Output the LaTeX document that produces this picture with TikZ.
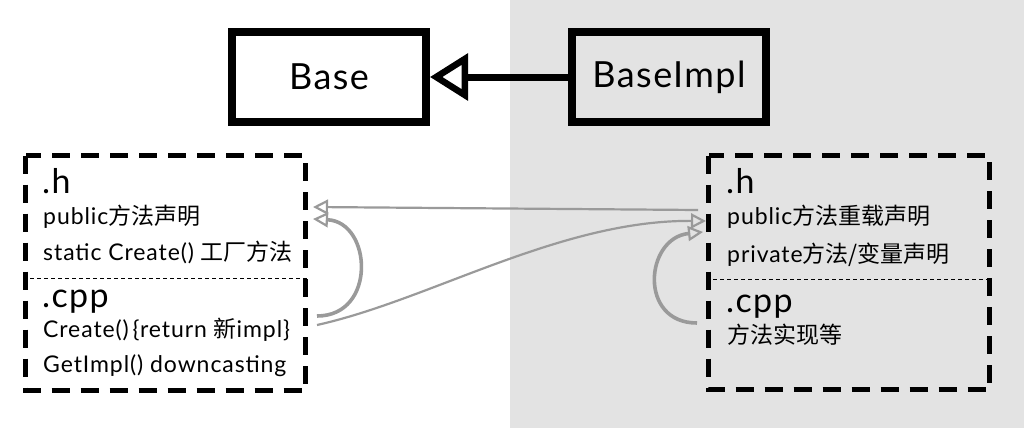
\documentclass[tikz,border=0pt]{standalone}
\usepackage{fontspec}
\setmainfont{Lato}[LetterSpace=4]
\newfontfamily\cjk{Noto Sans CJK SC}
\usetikzlibrary{arrows.meta}
\newcommand\zhs[1]{{\cjk #1}}
\definecolor{bggray}{HTML}{E3E3E3}
\definecolor{arrgray}{HTML}{9A9A9A}
\tikzset{
  classbox/.style={draw=black, line width=8pt, minimum width=194pt, minimum height=90pt, inner sep=0pt, font=\fontsize{36}{40}\selectfont},
  filebox/.style={draw=black, line width=5pt, dash pattern=on 18pt off 11pt, inner sep=0pt},
  divider/.style={draw=black, line width=0.9pt, dash pattern=on 4pt off 3pt},
  ftitle/.style={anchor=base west, inner sep=0pt, font=\fontsize{34}{38}\selectfont},
  fitem/.style={anchor=base west, inner sep=0pt, font=\fontsize{23}{26}\selectfont},
  thinarr/.style={draw=arrgray, line width=2.2pt, -{Triangle[open, length=15pt, width=15pt]}},
  thickarr/.style={draw=arrgray, line width=3.6pt, -{Triangle[open, length=15pt, width=15pt, line width=2.2pt]}},
}
\begin{document}
\begin{tikzpicture}[x=1pt, y=-1pt]
\useasboundingbox (0,0) rectangle (1024,428);
\fill[bggray] (510,0) rectangle (1024,428);

% class boxes
\node[classbox] (base) at (329,77) {Base};
\node[classbox, fill=bggray] (impl) at (669,77) {BaseImpl};
\draw[line width=7pt, -{Triangle[open, length=38pt, width=46pt, line width=6.5pt]}] (impl.west) -- (base.east);

% file boxes
\draw[filebox] (25.5,155.5) rectangle (305.5,390.5);
\draw[divider] (23,278) -- (308,278);
\draw[filebox] (708.5,155.5) rectangle (989.5,389.5);
\draw[divider] (706,279) -- (992,279);

% left texts
\node[ftitle] (lh) at (42,193) {.h};
\node[fitem] (lpub) at (43,224) {public\zhs{方法声明}};
\node[fitem] (lstat) at (43,260) {static Create() \zhs{工厂方法}};
\node[ftitle] (lcpp) at (42,307) {.cpp};
\node[fitem] (lcreate) at (43,337) {Create()\,\{return \zhs{新}impl\}};
\node[fitem] (lget) at (43,372) {GetImpl() downcasting};

% right texts
\node[ftitle] (rh) at (726,193) {.h};
\node[fitem] (rpub) at (727,224) {public\zhs{方法重载声明}};
\node[fitem] (rpriv) at (727,262) {private\zhs{方法/变量声明}};
\node[ftitle] (rcpp) at (726,312) {.cpp};
\node[fitem] (rimpl) at (727,343) {\zhs{方法实现等}};

% arrow end points
\coordinate (a1s) at (698,210);
\coordinate (a1e) at (313,207);
\coordinate (a2s) at (317,325);
\coordinate (a2e) at (706,221);
\coordinate (a3s) at (317,316);
\coordinate (a3e) at (313,219);
\coordinate (a4s) at (697,323);
\coordinate (a4e) at (703,232);

\draw[thinarr] (a1s) -- (a1e);
\draw[thinarr] (a2s) .. controls (430,300) and (560,220) .. (a2e);
\draw[thickarr] (a3s) .. controls (377,316) and (372,222) .. (a3e);
\draw[thickarr] (a4s) .. controls (638,323) and (645,238) .. (a4e);
\end{tikzpicture}
\end{document}
